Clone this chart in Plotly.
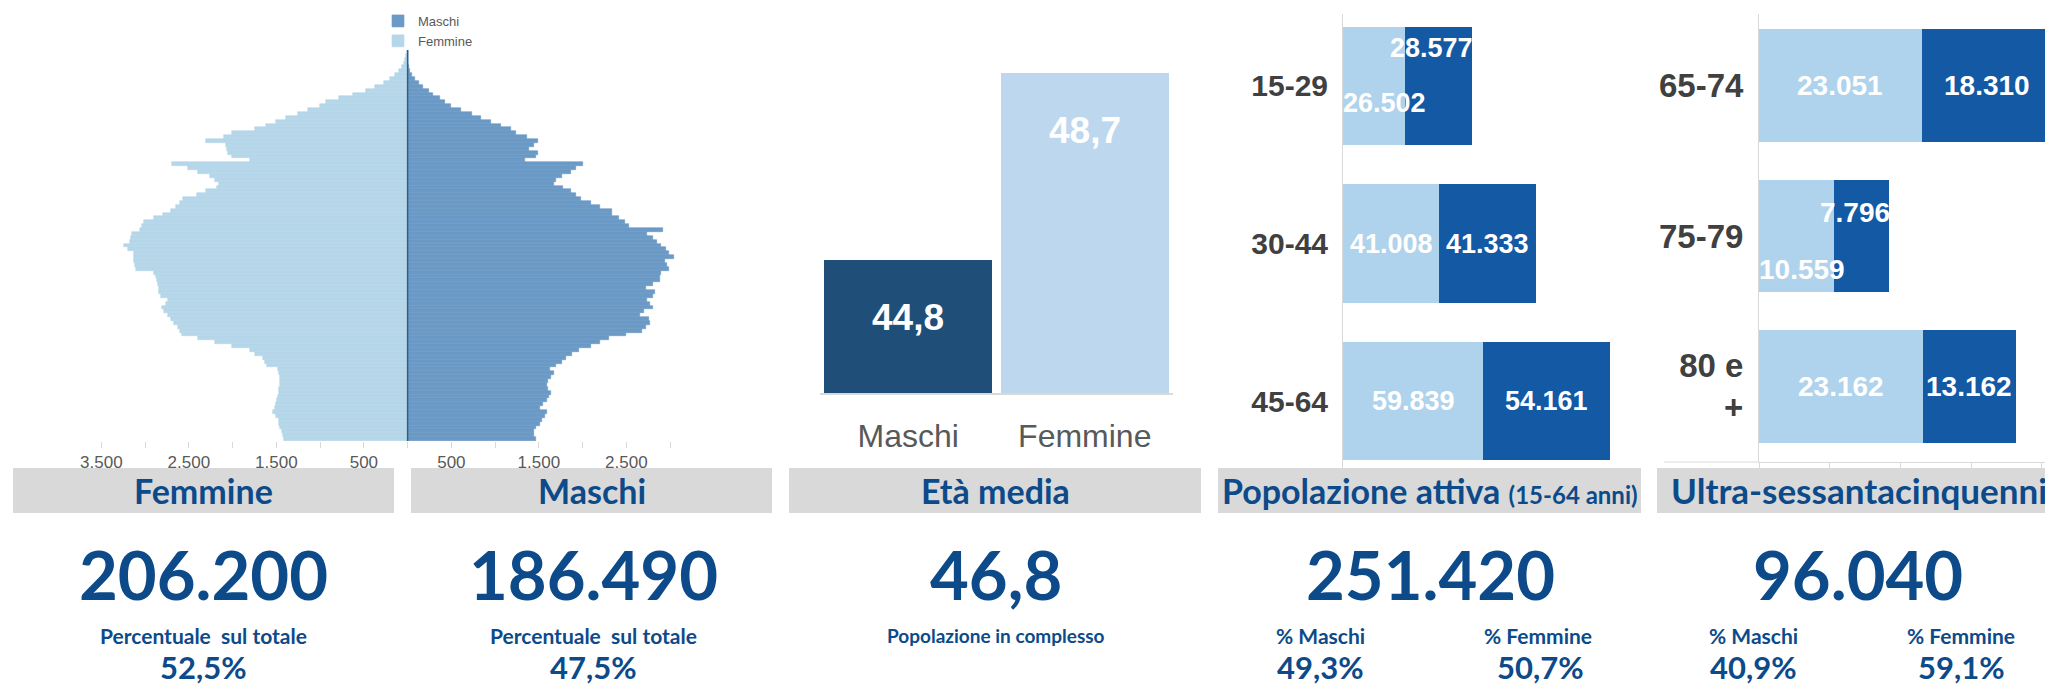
import plotly.graph_objects as go

W, H = 2045, 689
def px(x): return x / W
def py(y): return 1 - y / H

def fmt_int(v): return f"{v:,}".replace(",", ".")
def fmt_dec(v): return f"{v:.1f}".replace(".", ",")

# ---------------- DATA ----------------
ages = list(range(0, 101))
pyr_maschi = [1464, 1450, 1440, 1470, 1510, 1540, 1570, 1590, 1515, 1550,
              1590, 1615, 1640, 1610, 1595, 1610, 1640, 1668, 1630, 1700,
              1760, 1810, 1880, 1960, 2100, 2200, 2300, 2500, 2680, 2730,
              2770, 2760, 2660, 2700, 2810, 2770, 2740, 2800, 2830, 2730,
              2800, 2890, 2885, 2900, 2990, 2970, 2945, 3045, 2990, 2950,
              2900, 2845, 2800, 2740, 2915, 2535, 2490, 2420, 2331, 2331,
              2200, 2100, 1980, 1920, 1872, 1780, 1670, 1700, 1760, 1870,
              1930, 2000, 1336, 1464, 1489, 1387, 1450, 1489, 1362, 1240,
              1180, 1070, 954, 840, 730, 610, 500, 430, 367, 290,
              240, 175, 130, 87, 50, 30, 12, 6, 3, 2, 1]
pyr_femmine = [1408, 1420, 1440, 1455, 1465, 1470, 1500, 1535, 1520, 1505,
               1495, 1484, 1475, 1469, 1455, 1453, 1464, 1475, 1484, 1606,
               1630, 1658, 1740, 1800, 2004, 2200, 2400, 2575, 2600, 2630,
               2667, 2700, 2744, 2780, 2810, 2760, 2744, 2820, 2846, 2846,
               2855, 2861, 2880, 2897, 3101, 3115, 3126, 3126, 3130, 3200,
               3238, 3177, 3165, 3152, 3060, 3034, 3014, 2900, 2795, 2700,
               2642, 2600, 2565, 2412, 2300, 2183, 2157, 2200, 2259, 2400,
               2514, 2693, 1800, 2004, 2055, 2070, 2081, 2300, 2100, 2004,
               1749, 1622, 1500, 1392, 1250, 1137, 1000, 933, 780, 627,
               474, 370, 270, 200, 143, 100, 66, 40, 25, 15, 8]
pyr_ticks = list(range(-3500, 3001, 500))
pyr_labelled = [500, 1500, 2500, 3500]

eta_cat = ["Maschi", "Femmine"]
eta_val = [44.8, 48.7]

att_cat = ["15-29", "30-44", "45-64"]
att_fem = [26502, 41008, 59839]
att_mas = [28577, 41333, 54161]

ult_cat = ["65-74", "75-79", "80 e<br>+"]
ult_fem = [23051, 10559, 23162]
ult_mas = [18310, 7796, 13162]
ult_ticks = [0, 10000, 20000, 30000, 40000]

tot_femmine, tot_maschi = 206200, 186490
pct_femmine, pct_maschi = 52.5, 47.5
eta_tot = 46.8
att_tot, att_pct_m, att_pct_f = 251420, 49.3, 50.7
ult_tot, ult_pct_m, ult_pct_f = 96040, 40.9, 59.1

# ---------------- STYLE ----------------
C_PYR_M = "#6b9ac6"
C_PYR_F = "#b6d7ea"
C_DARK = "#1459a4"
C_LIGHT = "#afd3ec"
C_ETA_M = "#1f4e79"
C_ETA_F = "#bdd7ee"
C_TXT = "#0c4a8a"
C_HDR = "#d9d9d9"
ARIAL = "Liberation Sans, Arial, sans-serif"
LATO = "Lato, Open Sans, sans-serif"

fig = go.Figure()

# ---- Pyramid ----
fig.add_trace(go.Bar(y=ages, x=pyr_maschi, orientation="h", width=1, name="Maschi",
                     marker=dict(color=C_PYR_M, line=dict(color=C_PYR_M, width=0.6)),
                     xaxis="x", yaxis="y", showlegend=True, hoverinfo="skip"))
fig.add_trace(go.Bar(y=ages, x=[-v for v in pyr_femmine], orientation="h", width=1,
                     name="Femmine",
                     marker=dict(color=C_PYR_F, line=dict(color=C_PYR_F, width=0.6)),
                     xaxis="x", yaxis="y", showlegend=True, hoverinfo="skip"))

# ---- Età media ----
fig.add_trace(go.Bar(x=eta_cat, y=eta_val, width=0.952,
                     marker=dict(color=[C_ETA_M, C_ETA_F], line=dict(width=0)),
                     xaxis="x2", yaxis="y2", showlegend=False, hoverinfo="skip"))

# ---- Popolazione attiva ----
fig.add_trace(go.Bar(y=att_cat, x=att_fem, orientation="h", width=0.75,
                     marker=dict(color=C_LIGHT, line=dict(width=0)),
                     xaxis="x3", yaxis="y3", showlegend=False, hoverinfo="skip"))
fig.add_trace(go.Bar(y=att_cat, x=att_mas, orientation="h", width=0.75,
                     marker=dict(color=C_DARK, line=dict(width=0)),
                     xaxis="x3", yaxis="y3", showlegend=False, hoverinfo="skip"))

# ---- Ultra-sessantacinquenni ----
fig.add_trace(go.Bar(y=ult_cat, x=ult_fem, orientation="h", width=0.75,
                     marker=dict(color=C_LIGHT, line=dict(width=0)),
                     xaxis="x4", yaxis="y4", showlegend=False, hoverinfo="skip"))
fig.add_trace(go.Bar(y=ult_cat, x=ult_mas, orientation="h", width=0.75,
                     marker=dict(color=C_DARK, line=dict(width=0)),
                     xaxis="x4", yaxis="y4", showlegend=False, hoverinfo="skip"))

annotations = []
shapes = []

# pyramid center line
shapes.append(dict(type="line", xref="x", yref="y", x0=0, x1=0, y0=-0.5, y1=100.5,
                   line=dict(color="#2d5d8e", width=1.5), layer="above"))

# Età media value labels (inside end)
for c, v in zip(eta_cat, eta_val):
    annotations.append(dict(x=c, y=v, xref="x2", yref="y2", text=f"<b>{fmt_dec(v)}</b>",
                            showarrow=False, yshift=-57, yanchor="middle",
                            font=dict(family=ARIAL, size=37, color="white")))

# stacked bar labels
def stacked_labels(cats, fem, mas, xr, yr, scale, size, up, down):
    for c, f, m in zip(cats, fem, mas):
        fit = f * scale >= 80 and m * scale >= 80
        font = dict(family=ARIAL, size=size, color="white")
        if fit:
            annotations.append(dict(x=f / 2, y=c, xref=xr, yref=yr, text=f"<b>{fmt_int(f)}</b>",
                                    showarrow=False, font=font))
            annotations.append(dict(x=f + m / 2, y=c, xref=xr, yref=yr, text=f"<b>{fmt_int(m)}</b>",
                                    showarrow=False, font=font))
        else:
            annotations.append(dict(x=f + m, y=c, xref=xr, yref=yr, text=f"<b>{fmt_int(m)}</b>",
                                    xanchor="right", xshift=3, yshift=up, showarrow=False, font=font))
            annotations.append(dict(x=0, y=c, xref=xr, yref=yr, text=f"<b>{fmt_int(f)}</b>",
                                    xanchor="left", xshift=-2, yshift=-down, showarrow=False, font=font))

stacked_labels(att_cat, att_fem, att_mas, "x3", "y3", 293 / 125000, 27, 38, 17)
stacked_labels(ult_cat, ult_fem, ult_mas, "x4", "y4", 286 / 40450, 28, 23, 34)

# ultra bottom line extension
shapes.append(dict(type="line", xref="paper", yref="paper", x0=px(1664), x1=px(1759),
                   y0=py(462), y1=py(462), line=dict(color="#d9d9d9", width=1)))

# ---- Bottom panels ----
headers = [
    (13, 394, "Femmine"),
    (411, 772, "Maschi"),
    (789, 1201, "Età media"),
    (1218, 1641, "Popolazione attiva <span style='font-size:24px'>(15-64 anni)</span>"),
    (1657, 2060, "Ultra-sessantacinquenni"),
]
for i, (x0, x1, t) in enumerate(headers):
    shapes.append(dict(type="rect", xref="paper", yref="paper", x0=px(x0), x1=px(x1),
                       y0=py(513), y1=py(468), fillcolor=C_HDR, line=dict(width=0), layer="below"))
    if i == 4:
        annotations.append(dict(x=px(1669), y=py(490), xref="paper", yref="paper",
                                text=f"<b>{t}</b>", showarrow=False, xanchor="left", yanchor="middle",
                                font=dict(family=LATO, size=35, color=C_TXT)))
    else:
        annotations.append(dict(x=px((x0 + x1) / 2), y=py(490), xref="paper", yref="paper",
                                text=f"<b>{t}</b>", showarrow=False, xanchor="center", yanchor="middle",
                                font=dict(family=LATO, size=34, color=C_TXT)))

def txt(x, y, t, size):
    annotations.append(dict(x=px(x), y=py(y), xref="paper", yref="paper", text=f"<b>{t}</b>",
                            showarrow=False, xanchor="center", yanchor="middle",
                            font=dict(family=LATO, size=size, color=C_TXT)))

BIG_Y, SUB_Y, PCT_Y = 574, 635, 667
txt(203, BIG_Y, fmt_int(tot_femmine), 67)
txt(203, SUB_Y, "Percentuale\u00a0 sul totale", 21)
txt(203, PCT_Y, fmt_dec(pct_femmine) + "%", 31)

txt(593, BIG_Y, fmt_int(tot_maschi), 67)
txt(593, SUB_Y, "Percentuale\u00a0 sul totale", 21)
txt(593, PCT_Y, fmt_dec(pct_maschi) + "%", 31)

txt(996, BIG_Y, fmt_dec(eta_tot), 67)
txt(996, SUB_Y, "Popolazione in complesso", 19)

txt(1430, BIG_Y, fmt_int(att_tot), 67)
txt(1320, SUB_Y, "% Maschi", 21)
txt(1538, SUB_Y, "% Femmine", 21)
txt(1320, PCT_Y, fmt_dec(att_pct_m) + "%", 31)
txt(1540, PCT_Y, fmt_dec(att_pct_f) + "%", 31)

txt(1858, BIG_Y, fmt_int(ult_tot), 67)
txt(1753, SUB_Y, "% Maschi", 21)
txt(1961, SUB_Y, "% Femmine", 21)
txt(1753, PCT_Y, fmt_dec(ult_pct_m) + "%", 31)
txt(1961, PCT_Y, fmt_dec(ult_pct_f) + "%", 31)

fig.update_layout(
    template="none",
    width=W, height=H, margin=dict(l=0, r=0, t=0, b=0, pad=0, autoexpand=False),
    paper_bgcolor="white", plot_bgcolor="rgba(0,0,0,0)",
    barmode="relative", bargap=0,
    showlegend=True,
    legend=dict(x=px(378), y=py(6), xanchor="left", yanchor="top", orientation="v",
                bgcolor="rgba(0,0,0,0)", itemwidth=30, tracegroupgap=0,
                font=dict(family="Liberation Sans Narrow, Liberation Sans, Arial", size=13, color="#595959"),
                traceorder="normal"),
    xaxis=dict(domain=[px(95), px(680)], range=[-3573, 3113], anchor="y", automargin=False,
               tickvals=pyr_ticks,
               ticktext=[fmt_int(abs(v)) if abs(v) in pyr_labelled else "" for v in pyr_ticks],
               ticks="outside", ticklen=6, tickcolor="#d9d9d9", showline=False,
               showgrid=False, zeroline=False,
               tickfont=dict(family=ARIAL, size=17, color="#595959")),
    yaxis=dict(domain=[py(441), py(50)], range=[-0.5, 100.5], anchor="x", automargin=False,
               visible=False, showgrid=False),
    xaxis2=dict(domain=[px(820), px(1173)], anchor="y2", range=[-0.5, 1.5], automargin=False,
                showline=True, linecolor="#d9d9d9", linewidth=2, ticks="",
                showgrid=False, zeroline=False, ticklabelstandoff=14,
                tickfont=dict(family=ARIAL, size=32, color="#595959")),
    yaxis2=dict(domain=[py(393), py(40)], range=[42.03, 49.39], anchor="x2", automargin=False,
                visible=False, showgrid=False),
    xaxis3=dict(domain=[px(1343), px(1636)], range=[0, 125000], anchor="y3", automargin=False,
                visible=False, showgrid=False),
    yaxis3=dict(domain=[py(468), py(14)], type="category", range=[2.425, -0.457],
                anchor="x3", showline=True, linecolor="#d9d9d9", linewidth=1, automargin=False,
                ticks="", showgrid=False, zeroline=False, ticklabelstandoff=8,
                categoryorder="array", categoryarray=att_cat,
                tickfont=dict(family=ARIAL, size=30, color="#404040", weight="bold")),
    xaxis4=dict(domain=[px(1759), 1], range=[0, 40450], anchor="y4", automargin=False,
                showline=True, linecolor="#d9d9d9", linewidth=1,
                ticks="outside", ticklen=7, tickcolor="#d9d9d9",
                tickvals=ult_ticks, showticklabels=False, showgrid=False, zeroline=False),
    yaxis4=dict(domain=[py(462), py(14)], type="category", range=[2.502, -0.475],
                anchor="x4", showline=True, linecolor="#d9d9d9", linewidth=1, automargin=False,
                ticks="", showgrid=False, zeroline=False, ticklabelstandoff=8,
                categoryorder="array", categoryarray=ult_cat,
                tickfont=dict(family=ARIAL, size=33, color="#404040", weight="bold")),
    annotations=annotations,
    shapes=shapes,
)

fig.write_html(
    "out.html",
    config={"displayModeBar": False},
    post_script="document.body.style.margin='0';document.body.style.overflow='hidden';",
)
